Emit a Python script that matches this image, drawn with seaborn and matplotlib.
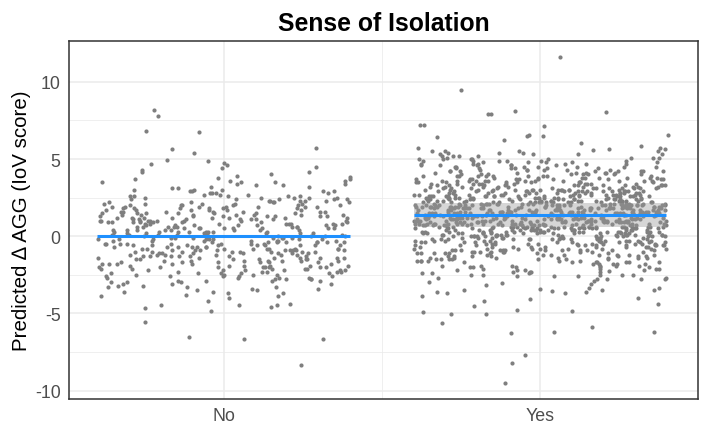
import matplotlib
matplotlib.use("Agg")
import matplotlib.pyplot as plt
import seaborn as sns
import pandas as pd

# categories and axis ticks
groups = ["No", "Yes"]
yticks = [-10, -5, 0, 5, 10]

# bulk of the predicted values per group
no_bulk = [
    0.3, -1.2, 2.1, -0.4, 1.6, -2.3, 0.8, -0.9, 3.2, -1.7, 0.1, -3.1, 1.1, -0.6, 2.6, -1.4, 0.5, -2.8, 1.9, -0.2,
    -1.0, 0.7, -2.1, 1.4, -0.8, 2.9, -1.6, 0.2, -3.5, 1.2, -0.3, 2.3, -1.9, 0.9, -2.6, 1.7, -0.5, 3.6, -1.3, 0.4,
    -2.0, 1.0, -0.7, 2.4, -1.5, 0.6, -3.3, 1.5, -0.1, 2.0, -2.4, 0.0, -1.1, 3.0, -0.9, 1.3, -2.2, 0.8, -1.8, 2.7,
    -0.4, 1.8, -2.9, 0.3, -1.3, 2.2, -0.6, 1.0, -3.8, 0.5, -1.7, 2.5, -0.2, 1.6, -2.5, 0.1, -1.0, 3.4, -0.8, 1.2,
    -1.6, 0.7, -2.7, 1.9, -0.3, 2.8, -1.2, 0.4, -3.0, 1.1, -0.5, 2.0, -2.0, 0.9, -1.4, 3.8, -0.7, 1.4, -2.3, 0.2,
    -1.1, 2.3, -0.9, 0.6, -3.6, 1.7, -0.1, 2.6, -1.9, 0.3, -2.4, 1.0, -0.6, 3.1, -1.5, 0.8, -2.8, 1.5, -0.4, 2.1,
    -1.8, 0.0, -2.2, 1.3, -0.8, 2.9, -1.0, 0.5, -3.2, 1.8, -0.2, 2.4, -1.6, 0.7, -2.6, 1.2, -0.5, 3.3, -1.3, 0.4,
    -2.1, 1.6, -0.7, 2.2, -1.4, 0.2, -3.9, 1.0, -0.3, 2.7, -2.0, 0.6, -1.2, 1.9, -0.9, 3.5, -2.5, 0.9, -1.7, 1.4,
    -0.6, 2.0, -2.9, 0.1, -1.1, 2.5, -0.4, 1.1, -3.4, 0.8, -1.8, 1.7, -0.1, 3.0, -2.3, 0.4, -1.5, 2.3, -0.8, 1.3,
    -2.7, 0.5, -1.0, 1.8, -0.5, 2.8, -1.9, 0.3, -3.1, 1.5, -0.2, 2.1, -2.2, 0.7, -1.3, 3.9, -0.9, 1.0, -2.0, 0.2,
    -1.6, 2.4, -0.3, 0.9, -3.7, 1.2, -1.1, 2.6, -0.7, 0.0, -2.4, 1.6, -0.6, 3.2, -1.4, 0.6, -2.8, 1.9, -0.1, 1.1,
    -1.9, 0.4, -2.1, 1.4, -0.8, 2.2, -1.2, 0.8, -3.3, 1.7, -0.4, 2.9, -1.7, 0.1, -2.6, 1.0, -0.5, 3.6, -1.0, 0.5,
    -2.3, 1.3, -0.9, 2.0, -1.5, 0.3, -3.0, 1.8, -0.2, 2.5, -2.0, 0.7, -1.3, 1.5, -0.6, 3.1, -2.5, 0.2, -1.8, 1.2,
    -0.7, 2.3, -2.9, 0.6, -1.1, 1.6, -0.3, 0.9, -3.5, 0.0, -1.6, 2.7, -0.8, 1.1, -2.2, 0.5, -1.4, 2.1, -0.1, 1.4,
    -2.6, 0.8, -1.0, 1.9, -0.4, 3.4, -1.9, 0.4, -3.2, 1.3, -0.6, 2.2, -2.1, 0.1, -1.2, 2.8, -0.9, 1.7, -2.4, 0.3,
    -1.7, 1.0, -0.2, 2.4, -3.6, 0.7, -1.3, 1.5, -0.5, 3.0, -2.7, 0.9, -0.8, 1.8, -1.5, 0.2, -2.0, 2.6, -0.3, 1.2,
    -1.1, 0.6, -2.8, 1.4, -0.7, 2.0, -1.6, 0.0, -3.9, 1.1, -0.1, 2.5, -1.8, 0.8, -2.3, 1.6, -0.4, 3.7, -1.4, 0.5,
    -2.2, 1.9, -0.9, 0.3, -3.1, 1.2, -0.6, 2.3, -1.0, 0.9, -2.5, 1.0, -0.2, 2.9, -1.7, 0.4, -3.4, 1.5, -0.8, 2.1,
    -1.3, 0.1, -2.0, 1.7, -0.5, 2.6, -1.5, 0.6, -2.9, 1.3, -0.3, 2.2, -2.4, 0.7, -1.2, 3.3, -0.7, 1.0, -1.9, 0.2,
    -2.6, 1.4, -0.4, 1.8, -3.7, 0.5, -1.1, 2.4, -0.9, 0.0, -2.1, 1.1, -0.6, 2.8, -1.6, 0.8, -3.0, 1.6, -0.1, 1.3,
    -1.8, 0.3, -2.7, 2.0, -0.8, 1.2, -1.4, 0.9, -3.3, 1.5, -0.2, 2.5, -2.2, 0.4, -1.0, 3.5, -0.5, 1.9, -2.0, 0.6,
]

yes_bulk = [
    1.6, 0.3, 3.7, -0.9, 2.0, 0.8, 4.5, -1.7, 3.1, 1.4, -0.3, 4.2, 2.3, 0.5, 2.8, 0.0, 5.0, 1.8, 1.0, -2.2,
    3.4, -0.6, 2.6, 0.2, 2.1, 0.7, 5.4, 1.1, 3.3, -0.5, 1.7, 3.9, -1.1, 2.4, 0.4, 1.2, 2.9, -0.1, 1.5, 4.7,
    0.9, -1.6, 2.2, 3.6, 0.1, 1.9, -0.8, 2.7, 1.3, 4.1, -2.5, 0.6, 3.0, 1.0, -0.2, 2.5, 1.6, 4.9, -1.3, 1.8,
    2.0, -0.4, 3.5, 0.8, 1.1, 5.2, -1.9, 2.3, 0.3, 1.7, 3.8, -0.7, 1.4, 2.6, 0.0, 4.4, -1.0, 2.9, 1.2, 0.5,
    3.2, -2.0, 1.5, 0.7, 2.8, 4.6, -0.3, 1.9, 0.2, 3.4, -1.4, 2.1, 1.0, 5.5, -0.9, 2.4, 0.6, 1.3, 3.7, -0.1,
    1.8, -1.2, 2.7, 0.4, 4.0, 1.6, -2.7, 3.1, 0.9, 2.2, -0.5, 1.1, 4.8, 0.1, 2.5, -1.7, 3.3, 1.4, 0.6, 2.0,
    -0.6, 3.0, 1.2, 4.3, -1.5, 2.6, 0.3, 1.7, 3.6, -0.2, 2.1, 0.8, 5.1, -2.3, 1.9, 0.5, 2.9, 1.0, -0.9, 3.9,
    1.4, 0.0, 2.4, -1.1, 3.5, 1.6, 4.5, -0.4, 2.0, 0.7, 3.2, -1.8, 1.3, 2.8, 0.2, 4.2, -0.7, 1.8, 0.9, 2.3,
    3.8, -2.4, 1.1, 2.5, 0.4, 1.7, 5.3, -0.1, 2.9, 0.6, 1.5, -1.3, 3.4, 2.0, 0.8, 4.7, -0.8, 1.2, 2.6, 0.1,
    -1.9, 2.2, 1.0, 3.1, 0.3, 4.0, 1.9, -0.5, 2.7, 1.4, -1.0, 3.6, 0.5, 2.4, 1.6, 5.0, -2.1, 0.9, 3.0, 1.3,
    2.1, -0.3, 4.4, 1.1, 0.6, 2.8, -1.6, 1.8, 3.3, 0.0, 2.5, -0.6, 1.5, 4.9, 0.7, 2.2, -2.6, 1.0, 3.7, 1.6,
    0.2, 2.6, -1.2, 3.9, 1.3, 0.8, 2.0, -0.2, 4.6, 1.7, 0.4, 3.0, -1.5, 2.3, 1.1, 5.4, -0.9, 1.9, 0.5, 2.9,
    1.5, -0.7, 3.4, 0.9, 2.4, -2.0, 1.2, 4.1, 0.1, 2.7, 1.8, -0.4, 3.6, 1.0, -1.3, 2.1, 0.6, 4.8, 1.4, 0.3,
    2.5, -1.1, 1.9, 3.2, 0.0, 1.6, 4.3, -0.5, 2.2, 0.8, 3.8, -2.3, 1.3, 2.6, 0.5, 1.1, -0.8, 3.1, 2.0, 5.2,
    0.7, 2.9, -0.1, 1.7, 3.5, -1.4, 2.3, 1.0, 4.5, 0.2, 1.5, -0.6, 2.8, 1.2, 3.9, -1.8, 0.6, 2.1, 1.8, 0.4,
    3.3, -0.3, 1.4, 2.4, -2.5, 0.9, 4.0, 1.6, 0.1, 2.7, -1.0, 1.9, 3.1, 0.5, 5.6, -0.7, 2.0, 1.1, 0.3, 2.5,
    -1.7, 1.8, 3.7, 0.6, 2.2, -0.2, 1.3, 4.4, 0.8, 2.9, -1.2, 1.5, 3.4, 0.0, 2.1, 1.0, -0.9, 4.9, 1.7, 0.4,
    2.6, 0.2, -1.5, 3.0, 1.2, 1.9, 4.2, -0.4, 2.3, 0.7, 3.6, -2.2, 1.6, 0.9, 2.8, -0.6, 1.1, 5.1, 0.3, 2.0,
    1.0, 3.5, -0.8, 2.4, 0.5, 1.7, -1.9, 3.9, 1.4, 0.1, 2.6, 4.6, -0.3, 1.2, 2.1, 0.6, -1.1, 3.2, 1.8, 0.8,
    2.2, -0.5, 4.1, 1.5, 0.0, 2.9, -1.3, 1.9, 3.3, 0.4, 1.1, -2.8, 2.5, 0.9, 4.7, 1.6, -0.2, 2.0, 1.3, 3.7,
    0.6, 2.3, -1.0, 1.8, 3.0, 0.2, 5.3, -0.6, 1.4, 2.7, 0.8, -1.6, 3.5, 1.0, 2.2, 0.1, 4.3, -0.4, 1.7, 2.6,
    -2.1, 1.2, 3.8, 0.5, 2.0, 1.5, -0.9, 2.8, 0.3, 4.0, 1.9, -0.1, 3.1, 1.1, 0.7, 2.4, -1.4, 5.0, 1.6, 0.9,
    2.9, 0.0, 1.3, -1.2, 3.4, 2.1, 0.6, 4.5, -0.7, 1.8, 2.5, 0.3, -2.4, 1.0, 3.6, 1.4, 0.8, 2.2, -0.3, 4.8,
    1.7, -0.5, 2.6, 0.4, 3.2, 1.1, -1.8, 2.0, 0.9, 4.2, 1.5, -0.2, 2.7, 0.1, 3.9, 1.2, -1.0, 2.3, 0.6, 5.5,
    0.8, 3.1, -0.8, 1.9, 2.4, -1.5, 1.3, 4.6, 0.2, 2.8, 1.6, -0.4, 3.5, 0.7, 2.1, -2.2, 1.0, 3.0, 1.8, 0.5,
    2.3, -1.1, 4.0, 1.4, 0.1, 2.6, -0.6, 1.7, 3.7, 0.9, -1.7, 2.0, 1.2, 5.2, 0.4, 2.9, -0.3, 1.5, 3.3, 0.6,
    -0.9, 2.2, 1.0, 3.4, -2.0, 1.8, 0.3, 4.4, 1.3, 2.5, -0.5, 0.8, 3.0, 1.6, -1.3, 2.7, 0.0, 4.9, 1.1, 2.1,
    1.9, 0.5, -1.4, 3.6, 2.4, 0.2, 1.5, -0.7, 4.1, 1.0, 2.8, -2.6, 1.4, 0.7, 3.2, 1.7, -0.1, 2.0, 0.4, 3.8,
    2.7, -0.2, 1.2, 4.7, 0.6, 1.9, -1.6, 3.1, 0.9, 2.3, -0.8, 1.5, 3.5, 0.1, 2.0, -1.1, 1.3, 5.1, 0.8, 2.6,
    0.3, 3.3, -1.9, 1.6, 2.1, 0.0, 4.3, 1.1, -0.4, 2.9, 1.7, -1.0, 3.7, 0.5, 2.2, 1.4, -2.3, 4.0, 0.9, 1.8,
    2.4, -0.6, 1.0, 3.0, 0.7, 5.0, -1.2, 1.8, 2.6, 0.2, 3.9, -0.3, 1.3, 2.1, -1.7, 0.8, 4.5, 1.5, 0.4, 2.8,
    -0.1, 1.7, 3.6, -2.1, 2.0, 0.9, 1.4, 4.2, -0.7, 2.5, 1.1, 0.3, 3.2, -1.4, 1.9, 0.6, 2.7, 5.3, 1.2, -0.4,
    3.1, 0.4, 1.8, -0.9, 2.3, 1.0, 4.6, -1.5, 1.5, 2.9, 0.1, 3.4, -0.2, 2.0, 0.7, -2.5, 1.6, 3.8, 1.2, 0.5,
    1.1, 2.6, -1.3, 0.8, 3.5, 1.9, -0.5, 4.1, 0.0, 2.2, 1.4, -1.8, 2.8, 0.6, 1.7, 5.4, -0.8, 2.4, 0.3, 3.0,
    2.0, -0.3, 1.2, 3.7, 0.9, -2.0, 2.5, 1.6, 4.4, 0.2, 1.9, -1.1, 3.3, 0.7, 2.1, 1.0, -0.6, 4.8, 1.5, 2.7,
    0.5, 3.2, 1.3, -1.6, 2.2, 0.1, 4.0, 1.8, -0.2, 2.6, 0.8, -2.7, 3.6, 1.1, 2.9, 0.4, 1.6, -0.9, 5.2, 2.0,
    1.4, -0.7, 2.8, 0.6, 3.9, 1.2, -1.4, 2.1, 0.3, 4.5, 1.7, -0.4, 2.4, 0.9, 3.1, -1.9, 1.5, 2.0, 0.0, 3.5,
    2.5, 0.2, -1.0, 1.9, 3.3, 0.7, 4.7, -0.5, 1.3, 2.2, -2.2, 1.6, 3.8, 0.4, 2.7, 1.1, -0.1, 4.2, 1.8, 0.8,
    -0.4, 2.3, 1.0, 3.0, -1.7, 1.5, 0.5, 4.9, 2.0, -0.8, 2.6, 1.2, 3.4, 0.0, 1.9, -1.2, 2.8, 0.6, 4.1, 1.4,
    1.7, 3.6, -0.2, 0.9, 2.4, -2.4, 1.3, 4.3, 0.3, 2.1, 1.6, -0.9, 3.2, 0.8, 5.0, -1.3, 2.5, 1.1, 0.1, 2.9,
    3.0, 0.6, -1.1, 2.2, 1.4, 4.6, -0.6, 1.8, 0.2, 3.5, 2.7, -1.8, 1.0, 2.3, 0.7, 3.9, -0.3, 1.5, 2.0, 0.4,
    0.9, 2.5, -1.5, 1.7, 3.3, 0.0, 4.2, 1.2, -0.5, 2.9, 1.6, -2.1, 2.0, 0.5, 3.7, 1.3, -0.9, 5.5, 0.8, 2.4,
    2.1, -0.1, 1.4, 3.8, 0.4, 1.9, -1.2, 2.6, 1.0, 4.4, -0.4, 0.7, 3.1, 1.6, -2.0, 2.3, 0.2, 1.1, 4.8, 0.9,
    1.3, 2.8, -0.7, 0.3, 3.4, 1.8, -1.6, 2.2, 0.8, 4.0, 1.5, -0.2, 2.5, 0.6, 3.6, -1.0, 1.2, 2.0, 5.1, 0.1,
    -0.3, 1.6, 2.9, 0.5, 4.3, 1.0, -1.4, 2.4, 1.9, 0.2, 3.2, -2.3, 1.4, 2.7, 0.7, 4.7, -0.6, 1.7, 0.4, 3.0,
    2.6, 0.8, -0.9, 1.5, 3.9, 0.1, 2.1, -1.7, 1.2, 4.5, 0.6, 2.8, -0.1, 1.8, 3.3, 0.3, -1.2, 2.3, 1.1, 5.3,
    1.0, 3.1, -0.5, 2.0, 0.4, 1.7, 4.1, -1.9, 2.4, 0.9, 1.3, 3.6, -0.8, 2.6, 0.0, 1.5, -2.6, 3.0, 1.9, 0.7,
    2.2, -0.4, 1.1, 3.4, 0.6, 4.9, -1.0, 1.6, 2.7, 0.3, -1.5, 2.0, 3.7, 0.8, 1.4, -0.2, 2.5, 4.2, 1.2, 0.5,
]

# stray points far from the bulk: value and horizontal jitter within the group
no_out_y = [8.15, 7.8, 6.84, 6.73, 5.66, 5.7, 5.4, 4.97, 4.69, 4.86, 4.75, 4.43, 4.64, 4.47,
            4.28, 4.13, 4.04, 4.13, 3.85, 3.7, 3.5,
            -4.67, -5.57, -6.52, -6.67, -6.65, -8.34, -4.86, -4.45, -4.17, -4.45, -4.56, -4.49,
            -4.37, -3.98]
no_out_jit = [-0.22, -0.21, -0.245, -0.08, -0.165, 0.29, -0.095, -0.18, -0.23, -0.05, 0.0, -0.005, 0.01, 0.29,
              -0.26, -0.26, 0.15, 0.27, 0.40, 0.40, -0.386,
              -0.25, -0.25, -0.11, 0.064, 0.314, 0.245, -0.04, -0.2, -0.05, 0.047, 0.15, 0.167,
              0.21, 0.017]

yes_out_y = [11.6, 9.48, 7.9, 7.95, 8.13, 8.02, 7.23, 7.23, 7.16, 6.5, 6.4, 6.58, 6.47, 6.56,
             6.24, 6.04, 5.7, 5.87, 5.7, 5.65, 5.63, 5.55,
             -9.53, -8.2, -7.68, -6.28, -6.21, -5.89, -6.21, -5.63, -4.92, -5.03, -5.03, -4.52,
             -4.19, -4.75, -4.06, -4.86, -3.98, -4.37, -3.89, -3.63, -3.7, -3.46, -3.4, -3.57,
             -3.68, -3.46, -3.35, -3.5, -2.8, -2.97, -3.05, -3.14, -3.6, -3.35, -3.1, -2.9,
             -2.75, -2.5, -2.26, -2.5, -2.75]
yes_out_jit = [0.064, -0.25, -0.165, -0.155, -0.08, 0.21, -0.38, -0.366, 0.013, 0.01, -0.327, 0.406, -0.042, -0.036,
               -0.114, 0.129, -0.385, 0.32, 0.379, 0.397, 0.22, -0.30,
               -0.11, -0.09, -0.046, -0.092, 0.044, 0.165, 0.36, -0.31, -0.37, -0.28, -0.17, -0.21,
               -0.177, -0.074, -0.033, 0.1, 0.31, 0.372, -0.373, -0.325, -0.295, -0.24, 0.0, 0.038,
               0.08, 0.196, 0.376, 0.36, 0.395, -0.35, -0.12, -0.17, 0.147, 0.156, 0.163, 0.172,
               0.18, 0.19, 0.218, 0.26, 0.32]

# fitted level per group and confidence band of the "Yes" fit
fit_level = [0.0, 1.35]
yes_ci = [0.58, 2.13]

jitter_width = 0.4
point_color = "#7f7f7f"
line_color = "#1E90FF"

sns.set_style("white")
plt.rcParams['font.family'] = ['Liberation Sans', 'DejaVu Sans']
plt.rcParams['axes.unicode_minus'] = False
plt.rcParams['text.color'] = "black"
plt.rcParams['axes.labelcolor'] = "black"

bulk = pd.DataFrame({
    "group": ["No"] * len(no_bulk) + ["Yes"] * len(yes_bulk),
    "value": no_bulk + yes_bulk,
})
strays = pd.DataFrame({
    "pos": [groups.index("No") + j for j in no_out_jit] + [groups.index("Yes") + j for j in yes_out_jit],
    "value": no_out_y + yes_out_y,
})

fig, ax = plt.subplots(figsize=(7.13, 4.27), dpi=100)
plt.subplots_adjust(left=69 / 713, right=698 / 713, top=1 - 42 / 427, bottom=1 - 400 / 427)

sns.stripplot(data=bulk, x="group", y="value", order=groups, jitter=jitter_width,
              color=point_color, size=3.0, linewidth=0, ax=ax, zorder=2)
sns.scatterplot(data=strays, x="pos", y="value", color=point_color, s=9,
                linewidth=0, legend=False, ax=ax, zorder=2)

# confidence band and fitted lines
yes_i = groups.index("Yes")
ax.fill_between([yes_i - jitter_width, yes_i + jitter_width], yes_ci[0], yes_ci[1],
                color="#999999", alpha=0.4, linewidth=0, zorder=3)
for i, lvl in enumerate(fit_level):
    ax.plot([i - jitter_width, i + jitter_width], [lvl, lvl], color=line_color,
            linewidth=2.2, solid_capstyle="butt", zorder=4)

ax.set_xlim(-0.49, 1.5)
ax.set_ylim(-10.55, 12.65)
ax.set_xticks(range(len(groups)))
ax.set_xticklabels(groups)
ax.set_yticks(yticks)
ax.set_xticks([0.5], minor=True)
ax.set_yticks([-7.5, -2.5, 2.5, 7.5], minor=True)

ax.set_axisbelow(True)
ax.grid(True, which="major", color="#EBEBEB", linewidth=1.1)
ax.grid(True, which="minor", color="#EBEBEB", linewidth=0.55)
for sp in ax.spines.values():
    sp.set_visible(True)
    sp.set_color("#333333")
    sp.set_linewidth(1.1)

ax.tick_params(which="major", length=3.5, width=0.8, color="#333333",
               labelsize=12.8, labelcolor="#4D4D4D", pad=2.5)
ax.tick_params(which="minor", length=0)

ax.set_title("Sense of Isolation", fontsize=17.8, fontweight="bold", pad=8, color="black")
ax.set_ylabel("Predicted \u2206 AGG (IoV score)", fontsize=14.8, labelpad=3, color="black")
ax.set_xlabel("")

fig.savefig("out.png", dpi=100)
